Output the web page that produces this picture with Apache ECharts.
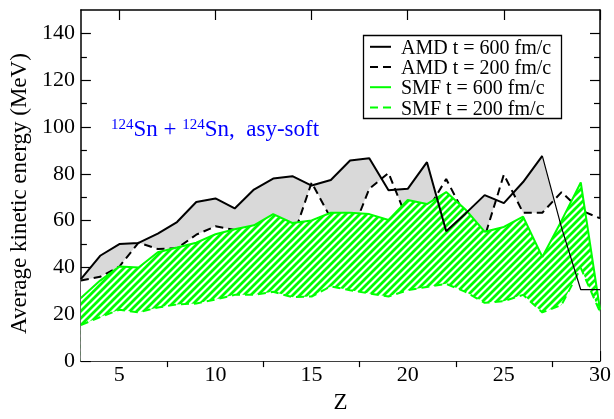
<!DOCTYPE html>
<html><head><meta charset="utf-8">
<script src="https://cdn.jsdelivr.net/npm/echarts@6/dist/echarts.min.js"></script>
<style>html,body{margin:0;padding:0;background:#fff}#c{width:614px;height:419px}</style>
</head><body><div id="c"></div>
<script>
// ---- data ----
const Z = [3,4,5,6,7,8,9,10,11,12,13,14,15,16,17,18,19,20,21,22,23,24,25,26,27,28,29,30];
const amd600 = [35,45,50,50.5,54.5,59.4,68,69.5,65.2,73.3,78,79,75,77.4,85.7,86.7,73,73.6,85,55.5,63,70.9,67.5,76.5,87.7,57,30.5,30.5];
const amd200 = [34.4,36,40.4,50.6,47.9,48.2,54,57.6,56,54,53,52,76.3,61,53,73.6,80.4,60,64,77.8,62,53,79.7,63.4,63.4,72.2,64.4,61];
const smf600 = [27,34.4,40.4,40,46.5,48.5,50.6,54.2,56.3,58,62.8,59,60.1,63.4,63.4,62.8,60.3,68.8,67.1,72.2,64.8,55.3,57.3,61.7,44.5,60,76.3,22];
const smf200 = [15.4,18.8,21.9,20.8,22.9,24.2,24.6,26.3,28.3,28.3,29.6,27.3,27.6,31.9,30.3,28.9,27.6,30.3,31.7,33,29.6,24.9,25.6,28.3,20.8,24,39.8,21];
const xMajorTicks = [5,10,15,20,25,30];
const xMinorTicks = [7.5,12.5,17.5,22.5,27.5];
const yMajorTicks = [0,20,40,60,80,100,120,140];
const yMinorTicks = [10,30,50,70,90,110,130];
const names = ['AMD t = 600 fm/c','AMD t = 200 fm/c','SMF t = 600 fm/c','SMF t = 200 fm/c'];

const pts = arr => Z.map((z,i)=>[z, arr[i]]);
const FONT = "'Liberation Serif', 'Times New Roman', serif";
const GREEN = '#00ff00';
const DASH = [8,5];

function hatch(){
  const s = 7, c = document.createElement('canvas');
  c.width = s; c.height = s;
  const g = c.getContext('2d');
  g.fillStyle = '#ffffff'; g.fillRect(0,0,s,s);
  g.strokeStyle = GREEN; g.lineWidth = 2.8;
  g.beginPath();
  g.moveTo(-1,s+1); g.lineTo(s+1,-1);
  g.moveTo(-2,2); g.lineTo(2,-2);
  g.moveTo(s-2,s+2); g.lineTo(s+2,s-2);
  g.stroke();
  return c;
}

const chart = echarts.init(document.getElementById('c'), null, {renderer:'canvas'});

const tickFont = {color:'#000', fontFamily:FONT, fontSize:22};

function xAx(pos, ticks, len, labels, extra){
  return Object.assign({
    type:'value', min:3, max:30, position:pos, gridIndex:0,
    axisLine:{show:true, onZero:false, lineStyle:{color:'#000', width:1.5}},
    axisTick:{show:true, inside:true, length:len, customValues:ticks, lineStyle:{color:'#000', width:1.2}},
    axisLabel:Object.assign({show:labels, customValues:ticks, margin:3}, tickFont),
    splitLine:{show:false}
  }, extra||{});
}
function yAx(pos, ticks, len, labels, extra){
  return Object.assign({
    type:'value', min:0, max:150, position:pos, gridIndex:0,
    axisLine:{show:true, onZero:false, lineStyle:{color:'#000', width:1.5}},
    axisTick:{show:true, inside:true, length:len, customValues:ticks, lineStyle:{color:'#000', width:1.2}},
    axisLabel:Object.assign({show:labels, customValues:ticks, margin:6}, tickFont),
    splitLine:{show:false}
  }, extra||{});
}

const areaSeries = (id, arr, fill, z) => ({
  type:'line', name:id, data:pts(arr), symbol:'none', silent:true, z:z,
  lineStyle:{width:0, opacity:0}, areaStyle:{color:fill, opacity:1, origin:'start'},
  xAxisIndex:0, yAxisIndex:0
});
const lineSeries = (name, data, color, type, width, z) => ({
  type:'line', name:name, data:data, symbol:'none', showSymbol:false, z:z,
  itemStyle:{color:color}, lineStyle:{color:color, width:width, type:type},
  xAxisIndex:0, yAxisIndex:0
});

const amdHead = pts(amd600).filter(p => p[0] <= 27);
const amdTail = pts(amd600).filter(p => p[0] >= 27);

// legend drawn as a framed box with line samples and real text
const legendStyles = [
  {color:'#000', dash:'solid'}, {color:'#000', dash:DASH},
  {color:GREEN, dash:'solid'}, {color:GREEN, dash:DASH}
];
const legendRows = [46.8, 67, 87.2, 107.4];
const legendGraphic = [{
  type:'rect', shape:{x:363.5, y:35.5, width:198, height:83}, z:50,
  style:{fill:'#fff', stroke:'#000', lineWidth:1.3}
}];
names.forEach((n,i)=>{
  legendGraphic.push({type:'line', z:51, shape:{x1:370, y1:legendRows[i], x2:391, y2:legendRows[i]},
    style:{stroke:legendStyles[i].color, lineWidth:2, lineDash:legendStyles[i].dash==='solid'?null:legendStyles[i].dash}});
  legendGraphic.push({type:'text', z:51, x:401, y:legendRows[i]+2,
    style:{text:n, fontFamily:FONT, fontSize:20, fill:'#000', verticalAlign:'middle', align:'left'}});
});

chart.setOption({
  animation:false,
  backgroundColor:'#fff',
  textStyle:{fontFamily:FONT},
  grid:{left:76, right:13, top:10, bottom:41},
  xAxis:[
    xAx('bottom', xMajorTicks, 10, true, {name:'Z', nameLocation:'middle', nameGap:21,
      nameTextStyle:{fontFamily:FONT, fontSize:23, color:'#000', verticalAlign:'top'}}),
    xAx('bottom', xMinorTicks, 6, false, {axisLine:{show:false}}),
    xAx('top', xMajorTicks, 10, false),
    xAx('top', xMinorTicks, 6, false, {axisLine:{show:false}})
  ],
  yAxis:[
    yAx('left', yMajorTicks, 10, true, {name:'Average kinetic energy (MeV)', nameLocation:'middle', nameGap:46,
      nameTextStyle:{fontFamily:FONT, fontSize:23, color:'#000', padding:[0,16,0,0]}}),
    yAx('left', yMinorTicks, 6, false, {axisLine:{show:false}}),
    yAx('right', yMajorTicks, 10, false),
    yAx('right', yMinorTicks, 6, false, {axisLine:{show:false}})
  ],
  graphic:[{
    type:'text', left:111, top:118, z:100,
    style:{
      text:'{s|124}{b|Sn + }{s|124}{b|Sn,  asy-soft}',
      fill:'#0000ff',
      rich:{
        s:{fontFamily:FONT, fontSize:15, fill:'#0000ff', lineHeight:15, verticalAlign:'top', padding:[0,0,13,0]},
        b:{fontFamily:FONT, fontSize:23, fill:'#0000ff', lineHeight:23, verticalAlign:'bottom'}
      }
    }
  }].concat(legendGraphic),
  series:[
    areaSeries('fillAmd600', amd600, '#d9d9d9', 1),
    areaSeries('fillAmd200', amd200, '#ffffff', 2),
    lineSeries(names[1], pts(amd200), '#000000', DASH, 2, 3),
    areaSeries('fillSmf600', smf600, {image:hatch(), repeat:'repeat'}, 4),
    areaSeries('fillSmf200', smf200, '#ffffff', 5),
    lineSeries(names[2], pts(smf600), GREEN, 'solid', 2, 6),
    lineSeries(names[3], pts(smf200), GREEN, DASH, 2, 6),
    lineSeries(names[0], amdHead, '#000000', 'solid', 2, 7),
    lineSeries('amdTail', amdTail, '#000000', 'solid', 1.2, 7)
  ]
});
</script>
</body></html>
